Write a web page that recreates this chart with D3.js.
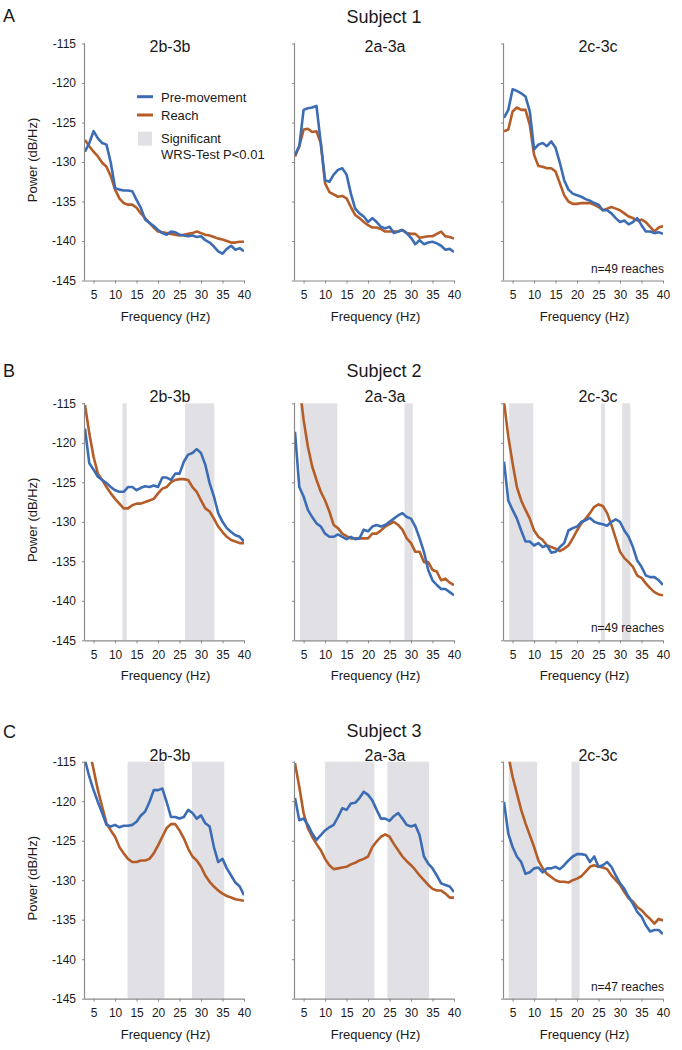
<!DOCTYPE html>
<html><head><meta charset="utf-8">
<script src="https://cdn.jsdelivr.net/npm/d3@7/dist/d3.min.js"></script>
<style>
html,body{margin:0;padding:0;background:#fff;}
svg text{font-family:"Liberation Sans",Arial,sans-serif;fill:#1a1a1a;}
</style></head>
<body><svg id="chart" width="682" height="1050"></svg>
<script>
// ---------- data ----------
const freqs = [3,4,5,6,7,8,9,10,11,12,13,14,15,16,17,18,19,20,21,22,23,24,25,26,27,28,29,30,31,32,33,34,35,36,37,38,39,40];
const xTicks = [5,10,15,20,25,30,35,40];
const yTicks = [-115,-120,-125,-130,-135,-140,-145];
const subjects = ["Subject 1","Subject 2","Subject 3"];
const rowLetters = ["A","B","C"];
const pairs = ["2b-3b","2a-3a","2c-3c"];
const reachCounts = ["n=49 reaches","n=49 reaches","n=47 reaches"];
const seriesNames = ["Pre-movement","Reach"];

// Subject 1
const s1_2b_pre   = [-128.7,-127.6,-126.1,-127.0,-127.6,-127.8,-130.1,-133.3,-133.5,-133.6,-133.6,-133.7,-134.8,-135.8,-137.3,-137.7,-138.1,-138.6,-139.0,-139.2,-138.8,-138.9,-139.2,-139.3,-139.4,-139.3,-139.5,-139.4,-139.9,-140.2,-140.7,-141.3,-141.6,-141.0,-140.6,-141.1,-140.9,-141.3];
const s1_2b_reach = [-127.2,-128.0,-128.7,-129.3,-130.1,-130.6,-131.8,-133.5,-134.6,-135.2,-135.4,-135.4,-135.8,-136.5,-137.1,-137.7,-138.3,-138.8,-138.9,-139.0,-139.1,-139.2,-139.3,-139.2,-139.1,-139.0,-138.8,-139.0,-139.2,-139.3,-139.5,-139.7,-139.8,-140.0,-140.2,-140.2,-140.1,-140.1];
const s1_2a_pre   = [-129.1,-128.0,-123.4,-123.2,-123.1,-122.9,-127.6,-132.3,-132.5,-131.6,-131.0,-130.8,-131.6,-134.0,-135.9,-136.5,-136.9,-137.6,-137.1,-137.6,-138.2,-138.4,-138.2,-139.0,-138.8,-138.6,-139.0,-139.6,-140.4,-139.9,-140.4,-140.2,-140.1,-140.3,-140.6,-141.1,-141.0,-141.4];
const s1_2a_reach = [-129.3,-128.0,-125.9,-125.8,-126.2,-126.1,-127.6,-132.7,-133.8,-134.1,-134.4,-134.3,-134.6,-135.7,-136.7,-137.1,-137.6,-138.0,-138.3,-138.3,-138.5,-138.8,-138.8,-138.8,-138.8,-138.6,-139.0,-139.1,-139.1,-139.6,-139.5,-139.4,-139.4,-139.1,-138.8,-139.4,-139.5,-139.7];
const s1_2c_pre   = [-124.4,-123.4,-120.8,-121.0,-121.3,-121.7,-123.6,-128.4,-127.8,-127.6,-128.0,-127.4,-128.2,-130.1,-132.3,-133.5,-134.0,-134.2,-134.4,-134.7,-134.9,-135.2,-135.4,-136.1,-136.1,-136.5,-137.1,-137.6,-137.4,-137.9,-137.6,-137.1,-138.0,-138.8,-138.8,-139.0,-138.9,-139.1];
const s1_2c_reach = [-126.1,-125.9,-123.6,-123.1,-123.4,-123.4,-125.3,-129.1,-130.5,-130.6,-130.8,-130.8,-131.2,-132.7,-134.2,-135.0,-135.3,-135.3,-135.2,-135.2,-135.2,-135.4,-135.7,-136.1,-135.9,-135.7,-135.9,-136.1,-136.5,-136.9,-137.1,-137.4,-137.3,-137.6,-138.2,-138.8,-138.3,-138.1];
// Subject 2
const s2_2b_pre   = [-118.2,-122.6,-123.4,-124.3,-124.7,-125.1,-125.6,-126.0,-126.2,-126.2,-125.6,-125.6,-126.0,-125.7,-125.5,-125.6,-125.4,-125.6,-124.4,-124.4,-124.7,-123.9,-123.9,-122.4,-121.5,-121.3,-120.8,-121.3,-122.8,-125.1,-126.8,-128.9,-130.0,-130.8,-131.3,-131.7,-131.9,-132.5];
const s2_2b_reach = [-115.2,-118.8,-121.8,-123.9,-124.7,-125.6,-126.4,-127.1,-127.7,-128.3,-128.3,-127.9,-127.7,-127.7,-127.5,-127.3,-127.1,-126.4,-125.8,-125.6,-125.0,-124.7,-124.6,-124.6,-124.7,-125.6,-126.2,-127.3,-128.3,-128.7,-129.6,-130.6,-131.3,-131.9,-132.3,-132.5,-132.7,-132.7];
const s2_2a_pre   = [-118.6,-125.6,-126.8,-128.5,-129.4,-130.2,-130.6,-131.5,-131.9,-131.9,-131.6,-131.9,-132.2,-131.9,-132.2,-132.1,-131.0,-131.2,-130.6,-130.4,-130.6,-130.4,-130.0,-129.6,-129.2,-128.9,-129.4,-129.6,-130.6,-132.1,-133.8,-136.1,-137.4,-138.0,-138.5,-138.5,-138.9,-139.3];
const s2_2a_reach = [-108.0,-112.5,-117.1,-120.5,-123.0,-124.7,-126.2,-127.3,-128.7,-130.4,-130.8,-131.5,-131.8,-132.1,-132.1,-132.1,-132.1,-132.1,-131.5,-131.5,-131.1,-130.6,-130.3,-130.0,-130.4,-131.0,-132.1,-132.7,-133.8,-133.8,-135.1,-135.1,-136.1,-136.3,-137.4,-137.2,-137.7,-138.0];
const s2_2c_pre   = [-122.4,-127.3,-128.5,-129.6,-131.1,-132.5,-132.5,-133.0,-132.7,-133.2,-133.0,-133.9,-133.8,-133.2,-132.7,-131.1,-130.8,-130.6,-130.0,-129.8,-129.5,-130.0,-130.2,-130.3,-130.5,-130.0,-129.7,-130.0,-131.1,-131.9,-133.2,-134.9,-135.7,-136.8,-137.0,-137.0,-137.4,-138.0];
const s2_2c_reach = [-114.8,-119.2,-122.6,-125.6,-127.3,-128.5,-129.6,-131.1,-131.9,-132.3,-133.0,-133.2,-133.4,-133.7,-133.4,-133.0,-132.1,-131.1,-130.2,-129.6,-128.9,-128.1,-127.8,-128.0,-128.9,-130.4,-132.1,-133.8,-134.6,-135.1,-135.7,-136.8,-137.1,-137.8,-138.4,-138.9,-139.2,-139.3];
// Subject 3
const s3_2b_pre   = [-114.8,-116.9,-118.6,-120.1,-121.5,-123.0,-123.2,-123.0,-123.3,-123.1,-123.1,-123.0,-122.6,-121.8,-121.3,-120.1,-118.6,-118.6,-118.4,-120.1,-122.0,-122.0,-122.2,-122.0,-121.1,-121.5,-122.2,-121.8,-122.8,-123.2,-125.8,-127.7,-127.3,-128.5,-129.4,-130.3,-130.8,-131.9];
const s3_2b_reach = [-112.0,-113.5,-116.0,-118.6,-120.7,-122.8,-123.7,-124.5,-125.8,-126.6,-127.3,-127.7,-127.7,-127.5,-127.5,-127.3,-126.6,-125.6,-124.5,-123.4,-122.9,-122.9,-123.7,-124.7,-126.0,-127.0,-127.5,-128.3,-129.4,-130.2,-130.8,-131.3,-131.7,-132.0,-132.2,-132.4,-132.5,-132.6];
const s3_2a_pre   = [-119.6,-122.4,-122.2,-123.0,-124.1,-124.9,-124.3,-123.7,-123.3,-123.0,-122.0,-120.9,-121.1,-120.3,-120.2,-119.6,-118.8,-119.2,-119.9,-121.1,-122.2,-122.2,-122.5,-121.9,-121.5,-122.2,-123.0,-123.2,-123.0,-124.3,-127.0,-127.9,-128.5,-129.4,-130.4,-130.6,-130.8,-131.5];
const s3_2a_reach = [-115.2,-118.2,-121.5,-123.4,-124.5,-125.4,-126.2,-127.3,-128.1,-128.6,-128.5,-128.4,-128.3,-128.0,-127.8,-127.5,-127.3,-127.0,-125.8,-125.1,-124.5,-124.2,-124.5,-125.4,-126.2,-127.0,-127.6,-128.1,-128.7,-129.4,-130.0,-130.6,-131.1,-131.3,-131.3,-131.7,-132.2,-132.2];
const s3_2c_pre   = [-120.1,-124.1,-125.8,-127.0,-127.7,-129.2,-129.0,-128.5,-128.4,-129.0,-128.5,-128.5,-128.3,-128.6,-128.1,-127.5,-127.0,-126.7,-126.7,-126.8,-127.7,-127.0,-128.3,-128.1,-127.7,-128.3,-129.4,-130.4,-131.1,-132.1,-133.0,-134.0,-134.6,-135.7,-136.5,-136.3,-136.3,-136.8];
const s3_2c_reach = [-113.0,-114.2,-116.9,-119.0,-121.1,-122.8,-124.3,-125.8,-127.5,-128.5,-129.2,-129.6,-130.0,-130.2,-130.2,-130.3,-130.0,-129.8,-129.5,-128.9,-128.3,-128.1,-128.3,-128.4,-128.6,-129.4,-130.0,-130.6,-131.5,-132.3,-132.7,-133.4,-133.8,-134.4,-134.9,-135.5,-134.9,-135.1];

// significant bands (WRS-test P<0.01), in Hz
const s1_2b_sig = [], s1_2a_sig = [], s1_2c_sig = [];
const s2_2b_sig = [[11.7,12.7],[26.3,33.1]];
const s2_2a_sig = [[4.15,12.85],[28.5,30.4]];
const s2_2c_sig = [[4.2,9.8],[25.6,26.5],[30.5,32.4]];
const s3_2b_sig = [[12.9,21.5],[27.9,35.4]];
const s3_2a_sig = [[10.0,21.5],[24.5,34.2]];
const s3_2c_sig = [[4.1,10.7],[18.7,20.6]];

// ---------- layout ----------
const colX = [85, 295, 504];
const plotW = 159;
const rowTop = [43.5, 403.3, 761.7];
const plotH = 237;
const letterY = [21.7, 376.7, 738];
const subjectY = [23, 377, 737];
const titleY = [52, 401.5, 761];
const titleDx = [85, 90, 94];
const BLUE = "#3c6db4", ORANGE = "#b45d28", SHADE = "#e1e1e5", AXIS = "#8a8a8a";

const grid = [
  [[s1_2b_pre,s1_2b_reach,s1_2b_sig],[s1_2a_pre,s1_2a_reach,s1_2a_sig],[s1_2c_pre,s1_2c_reach,s1_2c_sig]],
  [[s2_2b_pre,s2_2b_reach,s2_2b_sig],[s2_2a_pre,s2_2a_reach,s2_2a_sig],[s2_2c_pre,s2_2c_reach,s2_2c_sig]],
  [[s3_2b_pre,s3_2b_reach,s3_2b_sig],[s3_2a_pre,s3_2a_reach,s3_2a_sig],[s3_2c_pre,s3_2c_reach,s3_2c_sig]]
];

const svg = d3.select("#chart");
const x = d3.scaleLinear().domain([3, 40]).range([0, plotW]);
const y = d3.scaleLinear().domain([-145, -115]).range([plotH, 0]);
const defs = svg.append("defs");
defs.append("clipPath").attr("id","clip").append("rect")
  .attr("x",0).attr("y",0).attr("width",plotW).attr("height",plotH);

grid.forEach((row, r) => {
  svg.append("text").attr("x", 3).attr("y", letterY[r])
    .style("font-size","18px").text(rowLetters[r]);
  svg.append("text").attr("x", 384).attr("y", subjectY[r])
    .attr("text-anchor","middle").style("font-size","18px").text(subjects[r]);

  row.forEach((cell, c) => {
    const [pre, reach, sig] = cell;
    const g = svg.append("g").attr("transform", `translate(${colX[c]},${rowTop[r]})`);

    // shading
    g.selectAll("rect.sig").data(sig).join("rect").attr("class","sig")
      .attr("x", d => x(d[0])).attr("width", d => x(d[1]) - x(d[0]))
      .attr("y", y(-115)).attr("height", y(-145) - y(-115))
      .attr("fill", SHADE);

    // title
    svg.append("text").attr("x", colX[c] + titleDx[c]).attr("y", titleY[r])
      .attr("text-anchor","middle").style("font-size","16px").text(pairs[c]);

    // axes
    const ya = g.append("g").call(d3.axisLeft(y).tickValues(yTicks).tickSize(3).tickPadding(6)
      .tickFormat(d => c === 0 ? d : ""));
    const xa = g.append("g").attr("transform", `translate(0,${plotH})`)
      .call(d3.axisBottom(x).tickValues(xTicks).tickSize(3).tickPadding(7));
    [ya, xa].forEach(a => {
      a.select(".domain").attr("stroke", AXIS).attr("stroke-width", 1.2);
      a.selectAll(".tick line").attr("stroke", AXIS);
      a.selectAll(".tick text").style("font-size","12px").attr("fill","#1a1a1a")
        .style("font-family",'"Liberation Sans",Arial,sans-serif');
    });
    ya.select(".domain").attr("d", `M-0.5,${y(-115)}V${y(-145)}`);
    xa.select(".domain").attr("d", `M0,0.5H${plotW}`);

    // lines
    const line = d3.line().x((d,i) => x(freqs[i])).y(d => y(d));
    const lg = g.append("g").attr("clip-path","url(#clip)");
    lg.append("path").datum(reach).attr("d", line).attr("fill","none")
      .attr("stroke", ORANGE).attr("stroke-width", 2.6).attr("stroke-linejoin","round");
    lg.append("path").datum(pre).attr("d", line).attr("fill","none")
      .attr("stroke", BLUE).attr("stroke-width", 2.6).attr("stroke-linejoin","round");

    // axis labels
    svg.append("text").attr("x", colX[c] + plotW/2 + 1).attr("y", rowTop[r] + plotH + 40)
      .attr("text-anchor","middle").style("font-size","13px").text("Frequency (Hz)");
    if (c === 0) {
      svg.append("text").attr("transform", `translate(37,${rowTop[r] + plotH/2 - 2}) rotate(-90)`)
        .attr("text-anchor","middle").style("font-size","13px").text("Power (dB/Hz)");
    }
    if (c === 2) {
      svg.append("text").attr("x", colX[c] + plotW + 1).attr("y", rowTop[r] + plotH - 8)
        .attr("text-anchor","end").style("font-size","12px").text(reachCounts[r]);
    }
  });
});

// legend (Subject 1, first panel)
const lg = svg.append("g");
lg.append("line").attr("x1",137).attr("x2",153).attr("y1",96.7).attr("y2",96.7)
  .attr("stroke",BLUE).attr("stroke-width",3);
lg.append("text").attr("x",161).attr("y",101.5).style("font-size","13px").text(seriesNames[0]);
lg.append("line").attr("x1",137).attr("x2",153).attr("y1",115).attr("y2",115)
  .attr("stroke",ORANGE).attr("stroke-width",3);
lg.append("text").attr("x",161).attr("y",119.5).style("font-size","13px").text(seriesNames[1]);
lg.append("rect").attr("x",138).attr("y",131.7).attr("width",14).attr("height",14).attr("fill",SHADE);
lg.append("text").attr("x",161).attr("y",142.5).style("font-size","13px").text("Significant");
lg.append("text").attr("x",161).attr("y",158.5).style("font-size","13px").text("WRS-Test P<0.01");
</script></body></html>
